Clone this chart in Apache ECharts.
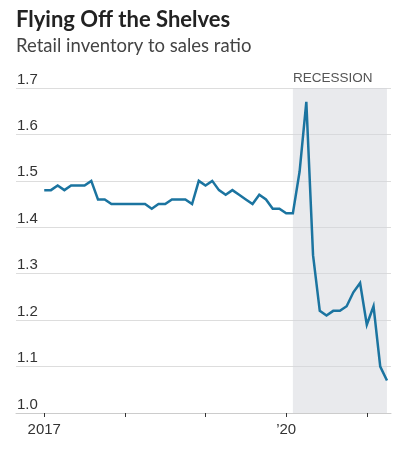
<!DOCTYPE html>
<html><head><meta charset="utf-8">
<script src="https://cdn.jsdelivr.net/npm/echarts@6/dist/echarts.min.js"></script>
<style>html,body{margin:0;padding:0;background:#fff}#c{width:403px;height:453px}</style>
</head><body><div id="c"></div>
<script>
const months = [
  '2017-01','2017-02','2017-03','2017-04','2017-05','2017-06','2017-07','2017-08','2017-09','2017-10','2017-11','2017-12',
  '2018-01','2018-02','2018-03','2018-04','2018-05','2018-06','2018-07','2018-08','2018-09','2018-10','2018-11','2018-12',
  '2019-01','2019-02','2019-03','2019-04','2019-05','2019-06','2019-07','2019-08','2019-09','2019-10','2019-11','2019-12',
  '2020-01','2020-02','2020-03','2020-04','2020-05','2020-06','2020-07','2020-08','2020-09','2020-10','2020-11','2020-12',
  '2021-01','2021-02','2021-03','2021-04'
];
const ratio = [
  1.48,1.48,1.49,1.48,1.49,1.49,1.49,1.50,1.46,1.46,1.45,1.45,
  1.45,1.45,1.45,1.45,1.44,1.45,1.45,1.46,1.46,1.46,1.45,1.50,
  1.49,1.50,1.48,1.47,1.48,1.47,1.46,1.45,1.47,1.46,1.44,1.44,
  1.43,1.43,1.52,1.67,1.34,1.22,1.21,1.22,1.22,1.23,1.26,1.28,
  1.19,1.23,1.10,1.07
];
const yearTicks = ['2017-01','2018-01','2019-01','2020-01','2021-01'];
const yearLabels = {'2017-01':'2017','2020-01':'\u201920'};
const recession = ['2020-02','2021-04'];
const recessionLabel = 'RECESSION';
const title = 'Flying Off the Shelves';
const subtitle = 'Retail inventory to sales ratio';

const idx = m => months.indexOf(m);
const narrow = '"Liberation Sans Narrow", "Liberation Sans", sans-serif';
const chart = echarts.init(document.getElementById('c'), null, {renderer:'canvas'});
chart.setOption({
  animation:false,
  backgroundColor:'#fff',
  title:{
    text:title, subtext:subtitle, left:16, top:9, itemGap:6, padding:0,
    textStyle:{fontFamily:'Lato, sans-serif', fontWeight:'bold', fontSize:22, color:'#222'},
    subtextStyle:{fontFamily:'Lato, sans-serif', fontSize:18.5, color:'#444'}
  },
  grid:{left:16, right:12, top:88, bottom:40},
  xAxis:{
    type:'value', min:-4.2, max:51.6,
    splitLine:{show:false},
    axisLine:{show:true, lineStyle:{color:'#ccc', width:1}},
    axisTick:{show:true, customValues:yearTicks.map(idx), length:4, lineStyle:{color:'#333', width:1}},
    axisLabel:{
      customValues:Object.keys(yearLabels).map(idx),
      formatter:v => yearLabels[months[Math.round(v)]] || '',
      fontFamily:narrow, fontSize:15, color:'#333', margin:9
    }
  },
  yAxis:{
    type:'value', min:1.0, max:1.7, interval:0.1,
    axisLine:{show:false}, axisTick:{show:false},
    splitLine:{lineStyle:{color:'#ddd', width:1}},
    axisLabel:{inside:true, margin:1, verticalAlign:'bottom', padding:[0,0,1,0],
      formatter:v => v.toFixed(1), fontFamily:narrow, fontSize:15, color:'#333'}
  },
  series:[{
    type:'line', data:months.map((m,i)=>[i, ratio[i]]),
    showSymbol:false, symbol:'none',
    lineStyle:{color:'#1b74a0', width:2.5, join:'miter'},
    markArea:{
      silent:true,
      itemStyle:{color:'rgba(210,213,218,0.49)'},
      label:{show:true, position:[0,-17], fontFamily:narrow, fontSize:13.5, color:'#555'},
      data:[[{xAxis:idx(recession[0]), name:recessionLabel},{xAxis:idx(recession[1])}]]
    }
  }]
});
</script></body></html>
